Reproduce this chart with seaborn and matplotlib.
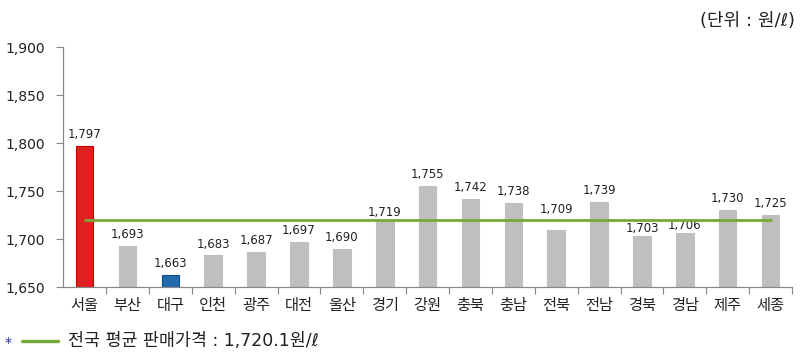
import matplotlib
matplotlib.use("Agg")
import matplotlib.pyplot as plt
import seaborn as sns
import pandas as pd
from matplotlib.lines import Line2D

sns.set_theme(style="white")
plt.rcParams['font.family'] = ['DejaVu Sans', 'Noto Sans CJK KR']

regions = ["서울", "부산", "대구", "인천", "광주", "대전", "울산", "경기", "강원",
           "충북", "충남", "전북", "전남", "경북", "경남", "제주", "세종"]
prices = [1797, 1693, 1663, 1683, 1687, 1697, 1690, 1719, 1755,
          1742, 1738, 1709, 1739, 1703, 1706, 1730, 1725]
national_avg = 1720.1
yticks = [1650, 1700, 1750, 1800, 1850, 1900]

colors = ["#ff0000" if r == "서울" else ("#0a6cc4" if r == "대구" else "#bfbfbf") for r in regions]
edge = ["#c00000" if r == "서울" else ("#0b4f8f" if r == "대구" else "#bfbfbf") for r in regions]

df = pd.DataFrame({"region": regions, "price": prices})

fig = plt.figure(figsize=(8, 3.54), dpi=100)
ax = fig.add_axes([0.079, 0.189, 0.911, 0.678])

sns.barplot(data=df, x="region", y="price", hue="region", palette=colors,
            legend=False, width=0.41, ax=ax)
for p, e in zip(ax.patches, edge):
    p.set_edgecolor(e)
    p.set_linewidth(0.8)

ax.set_ylim(1650, 1900)
ax.set_yticks(yticks)
ax.set_yticklabels([f"{v:,}" for v in yticks], fontsize=10, color="#222222")
ax.set_xlim(-0.5, len(regions) - 0.5)
ax.tick_params(axis="x", length=0, labelsize=11, labelcolor="#222222", pad=8)
ax.tick_params(axis="y", length=5, width=0.8, color="#888888", direction="out", pad=8)
ax.yaxis.set_tick_params(left=True)
ax.set_xticks([i + 0.5 for i in range(len(regions))], minor=True)
ax.tick_params(axis="x", which="minor", length=5, width=0.8, color="#888888", bottom=True)
ax.set_xlabel("")
ax.set_ylabel("")

for s in ["top", "right"]:
    ax.spines[s].set_visible(False)
for s in ["left", "bottom"]:
    ax.spines[s].set_color("#888888")
    ax.spines[s].set_linewidth(0.9)

for i, v in enumerate(prices):
    # the label of a bar just under the average line is lifted above the line
    if national_avg - 12 < v < national_avg - 5:
        base, off = national_avg, 4
    elif national_avg - 20 < v < national_avg:
        base, off = v, 1.5
    else:
        base, off = v, 5
    ax.text(i, base + off, f"{v:,}", ha="center", va="bottom", fontsize=8.5, color="#222222")

ax.plot([0, len(regions) - 1], [national_avg, national_avg], color="#77a83a", lw=2, zorder=5)

fig.text(0.994, 0.94, "(단위 : 원/ℓ)", ha="right", va="center", fontsize=13, color="#222222")
fig.text(0.006, 0.03, "*", ha="left", va="center", fontsize=10, color="#1f2f8f")
fig.add_artist(Line2D([0.028, 0.072], [0.037, 0.037], color="#77a83a", lw=2.4,
                      transform=fig.transFigure))
fig.text(0.085, 0.037, "전국 평균 판매가격 : 1,720.1원/ℓ", ha="left", va="center",
         fontsize=12.5, color="#222222")

fig.savefig("out.png", dpi=100)
